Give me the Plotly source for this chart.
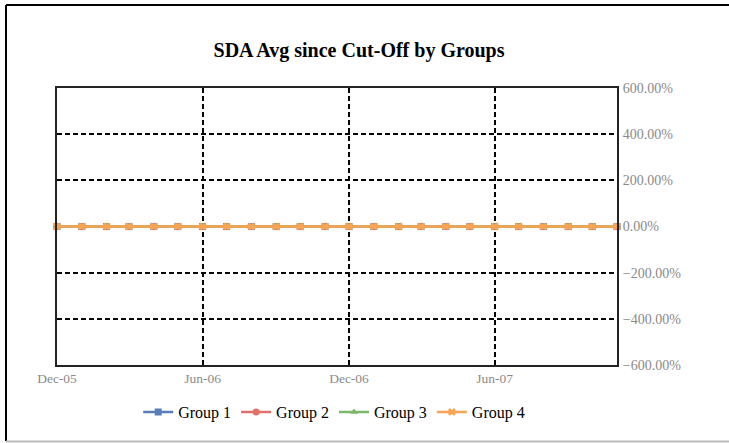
import plotly.graph_objects as go

# Monthly observation dates, Dec-05 through Nov-07
months = [
    "2005-12-01", "2006-01-01", "2006-02-01", "2006-03-01", "2006-04-01", "2006-05-01",
    "2006-06-01", "2006-07-01", "2006-08-01", "2006-09-01", "2006-10-01", "2006-11-01",
    "2006-12-01", "2007-01-01", "2007-02-01", "2007-03-01", "2007-04-01", "2007-05-01",
    "2007-06-01", "2007-07-01", "2007-08-01", "2007-09-01", "2007-10-01", "2007-11-01",
]

# SDA average since cut-off (fraction; 1.0 = 100%)
group_1 = [0.0] * 24
group_2 = [0.0] * 24
group_3 = [0.0] * 24
group_4 = [0.0] * 24

series_names = ["Group 1", "Group 2", "Group 3", "Group 4"]
y_ticks = [-6, -4, -2, 0, 2, 4, 6]

W, H = 729, 443
L, R, T, B = 57, 112, 88, 78
PW, PH = W - L - R, H - T - B


def px_x(x):
    return (x - L) / PW


def px_y(y):
    return (H - B - y) / PH


styles = [
    dict(color="#5A7DB5", symbol="square"),
    dict(color="#E0716C", symbol="circle"),
    dict(color="#7DB86A", symbol="triangle-up"),
    dict(color="#F9A455", symbol="x"),
]

fig = go.Figure()
for name, vals, st in zip(series_names, [group_1, group_2, group_3, group_4], styles):
    fig.add_trace(go.Scatter(
        x=months, y=vals, name=name, mode="lines+markers",
        line=dict(color=st["color"], width=2.5),
        marker=dict(symbol=st["symbol"], size=7, color=st["color"]),
        cliponaxis=False,
    ))

serif = "Liberation Serif, Times New Roman, serif"

fig.update_layout(
    width=W, height=H,
    margin=dict(l=L, r=R, t=T, b=B),
    paper_bgcolor="white", plot_bgcolor="white",
    title=dict(
        text="<b>SDA Avg since Cut-Off by Groups</b>",
        x=359 / W, xanchor="center", y=1 - 50 / H, yanchor="middle",
        font=dict(family=serif, size=20, color="black"),
    ),
    showlegend=True,
    legend=dict(
        orientation="h", x=0.495, xanchor="center", y=px_y(412), yanchor="middle",
        font=dict(family=serif, size=16, color="black"),
        itemwidth=30, tracegroupgap=0,
    ),
    xaxis=dict(
        type="date",
        range=["2005-12-01", "2007-11-01"],
        tick0="2005-12-01", dtick="M6", tickformat="%b-%y",
        showgrid=True, gridcolor="black", griddash="5px,3px", gridwidth=1.5,
        showline=True, linecolor="#222", linewidth=2, mirror=True,
        ticks="", zeroline=False, ticklabelstandoff=0,
        tickfont=dict(family=serif, size=13.5, color="#8a8a8a"),
    ),
    yaxis=dict(
        range=[-6, 6], tickvals=y_ticks, tickformat=".2%",
        side="right",
        showgrid=True, gridcolor="black", griddash="5px,3px", gridwidth=1.5,
        showline=True, linecolor="#222", linewidth=2, mirror=True,
        ticks="", zeroline=False, ticklabelstandoff=1,
        tickfont=dict(family=serif, size=14, color="#8a8a8a"),
    ),
    shapes=[
        # outer chart frame
        dict(type="line", xref="paper", yref="paper",
             x0=px_x(6), x1=px_x(6), y0=px_y(5), y1=px_y(441),
             line=dict(color="black", width=2)),
        dict(type="line", xref="paper", yref="paper",
             x0=px_x(6), x1=px_x(735), y0=px_y(5), y1=px_y(5),
             line=dict(color="black", width=2)),
        dict(type="line", xref="paper", yref="paper",
             x0=px_x(6), x1=px_x(735), y0=px_y(441.5), y1=px_y(441.5),
             line=dict(color="#bbbbbb", width=2)),
    ],
)

fig.write_html("out.html")
